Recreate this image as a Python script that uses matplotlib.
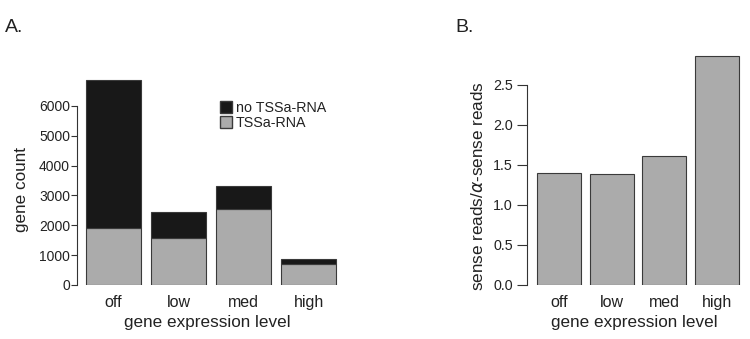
import matplotlib
matplotlib.use("Agg")
import matplotlib.pyplot as plt
from matplotlib.patches import Patch

plt.rcParams['font.family'] = ['Liberation Sans', 'DejaVu Sans']
plt.rcParams['mathtext.fontset'] = 'dejavusans'

categories = ["off", "low", "med", "high"]
tssa_rna = [1900, 1565, 2550, 715]
no_tssa_rna = [4960, 870, 755, 145]
sense_ratio = [1.40, 1.385, 1.615, 2.86]
ticks_a = [0, 1000, 2000, 3000, 4000, 5000, 6000]
ticks_b = [0.0, 0.5, 1.0, 1.5, 2.0, 2.5]

dark = "#181818"
gray = "#ababab"
edge = "#3a3a3a"
txt = "#222222"

fig = plt.figure(figsize=(7.5, 3.39), dpi=100)

# Panel A
axA = fig.add_axes([77/750, 54/339, 261/750, 209/339])
x = range(len(categories))
axA.bar(x, tssa_rna, width=0.85, color=gray, edgecolor=edge, linewidth=0.8)
axA.bar(x, no_tssa_rna, bottom=tssa_rna, width=0.85, color=dark, edgecolor=edge, linewidth=0.8)
axA.set_xlim(-0.56, 3.45)
axA.set_ylim(0, 7000)
for s in ["top", "right", "bottom"]:
    axA.spines[s].set_visible(False)
axA.spines["left"].set_bounds(0, 6000)
axA.spines["left"].set_color("#333333")
axA.set_yticks(ticks_a)
axA.set_yticklabels([str(t) for t in ticks_a])
axA.tick_params(axis="y", length=4, pad=1, labelsize=10, colors=txt, color="#333333")
axA.set_xticks(list(x))
axA.set_xticklabels(categories)
axA.tick_params(axis="x", length=0, pad=7, labelsize=11.5, colors=txt)
axA.set_xlabel("gene expression level", fontsize=12.3, color=txt, labelpad=4)
axA.set_ylabel("gene count", fontsize=12.3, color=txt)
axA.yaxis.set_label_coords(-(77 - 29) / 261, (285 - 190) / 209, transform=axA.transAxes)
handles = [Patch(facecolor=dark, edgecolor=edge, label="no TSSa-RNA"),
           Patch(facecolor=gray, edgecolor=edge, label="TSSa-RNA")]
fig.legend(handles=handles, loc="upper left", bbox_to_anchor=(213/750, 1 - 94/339),
           frameon=False, fontsize=10.3, handlelength=0.8, handleheight=0.95,
           handletextpad=0.3, labelspacing=0.05, borderpad=0, labelcolor=txt)

# Panel B
axB = fig.add_axes([527/750, 54/339, 215/750, 232/339])
axB.bar(x, sense_ratio, width=0.835, color=gray, edgecolor=edge, linewidth=0.8)
axB.set_xlim(-0.607, 3.47)
axB.set_ylim(0, 2.9)
for s in ["top", "right", "bottom"]:
    axB.spines[s].set_visible(False)
axB.spines["left"].set_bounds(0, 2.5)
axB.spines["left"].set_color("#333333")
axB.set_yticks(ticks_b)
axB.set_yticklabels([f"{t:.1f}" for t in ticks_b])
axB.tick_params(axis="y", length=7, pad=3, labelsize=10.3, colors=txt, color="#333333")
axB.set_xticks(list(x))
axB.set_xticklabels(categories)
axB.tick_params(axis="x", length=0, pad=7, labelsize=11.5, colors=txt)
axB.set_xlabel("gene expression level", fontsize=12.3, color=txt, labelpad=4)
axB.set_ylabel(r"sense reads/$\alpha$-sense reads", fontsize=12.3, color=txt)
axB.yaxis.set_label_coords(-(527 - 486) / 215, (285 - 186) / 232, transform=axB.transAxes)

fig.text(5/750, 1 - 27/339, "A.", fontsize=14, color=txt, va="center", ha="left")
fig.text(455/750, 1 - 27/339, "B.", fontsize=14, color=txt, va="center", ha="left")

fig.savefig("out.png", dpi=100, facecolor="white")
